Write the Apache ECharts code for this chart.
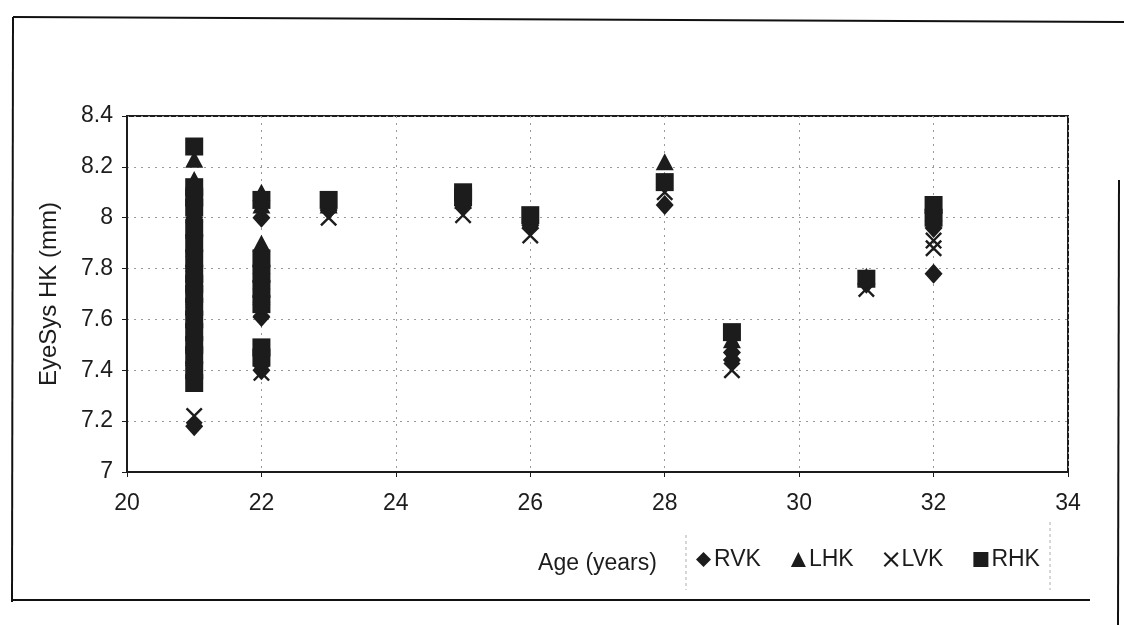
<!DOCTYPE html>
<html>
<head>
<meta charset="utf-8">
<script src="https://cdn.jsdelivr.net/npm/echarts@6/dist/echarts.min.js"></script>
<style>
  html, body { margin: 0; padding: 0; background: #fff; }
  #chart { width: 1124px; height: 625px; }
</style>
</head>
<body>
<div id="chart"></div>
<script>
// Corneal curvature (EyeSys HK, mm) against age, four meridians
const seriesNames = ['RVK', 'LHK', 'LVK', 'RHK'];

const rvk = [
  [21, 7.18], [21, 7.42], [21, 7.48], [21, 7.53], [21, 7.58], [21, 7.62], [21, 7.66],
  [21, 7.70], [21, 7.75], [21, 7.80], [21, 7.86], [21, 7.92], [21, 7.98], [21, 8.00],
  [22, 7.40], [22, 7.61], [22, 7.66], [22, 7.72], [22, 7.78], [22, 8.00],
  [23, 8.03], [25, 8.05], [26, 7.97], [28, 8.05], [29, 7.47], [29, 7.44],
  [31, 7.74], [32, 7.78], [32, 7.96]
];
const lhk = [
  [21, 7.40], [21, 7.45], [21, 7.52], [21, 7.60], [21, 7.68], [21, 7.75], [21, 7.82],
  [21, 7.88], [21, 7.95], [21, 8.02], [21, 8.08], [21, 8.15], [21, 8.23],
  [22, 7.70], [22, 7.78], [22, 7.90], [22, 8.05], [22, 8.10],
  [23, 8.05], [25, 8.07], [26, 7.99], [28, 8.22], [29, 7.52],
  [31, 7.77], [32, 8.02]
];
const lvk = [
  [21, 7.22], [21, 7.38], [21, 7.45], [21, 7.52], [21, 7.58], [21, 7.64], [21, 7.70],
  [21, 7.76], [21, 7.82], [21, 7.90], [21, 7.96], [21, 8.02],
  [22, 7.39], [22, 7.64], [22, 7.74], [22, 7.82],
  [23, 8.00], [25, 8.01], [26, 7.93], [28, 8.10], [29, 7.40],
  [31, 7.72], [32, 7.88], [32, 7.91]
];
const rhk = [
  [21, 7.35], [21, 7.40], [21, 7.46], [21, 7.50], [21, 7.55], [21, 7.60], [21, 7.65],
  [21, 7.70], [21, 7.74], [21, 7.78], [21, 7.84], [21, 7.90], [21, 7.96], [21, 8.04],
  [21, 8.08], [21, 8.12], [21, 8.28],
  [22, 7.45], [22, 7.49], [22, 7.66], [22, 7.72], [22, 7.78], [22, 7.84], [22, 8.07],
  [23, 8.07], [25, 8.10], [25, 8.08], [26, 8.01], [28, 8.14], [29, 7.55],
  [31, 7.76], [32, 8.00], [32, 8.05]
];

const xTicks = [20, 22, 24, 26, 28, 30, 32, 34];
const yTicks = [7, 7.2, 7.4, 7.6, 7.8, 8, 8.2, 8.4];

const ink = '#1c1c1c';
const font = 'Liberation Sans, Arial, sans-serif';
const crossPath = 'path://M1,0 L5,4 L9,0 L10,1 L6,5 L10,9 L9,10 L5,6 L1,10 L0,9 L4,5 L0,1 Z';

const symbols = {
  RVK: { symbol: 'diamond', size: [18, 20] },
  LHK: { symbol: 'triangle', size: [18, 17] },
  LVK: { symbol: crossPath, size: 17 },
  RHK: { symbol: 'rect', size: [18, 18] }
};
const dataByName = { RVK: rvk, LHK: lhk, LVK: lvk, RHK: rhk };

const chart = echarts.init(document.getElementById('chart'), null, { renderer: 'canvas' });

const grid = { left: 127, right: 56, top: 116, bottom: 153 };

chart.setOption({
  backgroundColor: '#fff',
  animation: false,
  textStyle: { fontFamily: font, color: ink },
  grid: Object.assign({ show: true, borderColor: ink, borderWidth: 2, backgroundColor: 'transparent' }, grid),
  xAxis: {
    type: 'value',
    min: xTicks[0],
    max: xTicks[xTicks.length - 1],
    interval: 2,
    name: 'Age (years)',
    nameLocation: 'middle',
    nameGap: 80,
    nameTextStyle: { fontSize: 23, color: ink, fontFamily: font },
    axisLine: { show: true, lineStyle: { color: ink, width: 2 } },
    axisTick: { show: true, length: 5, lineStyle: { color: ink } },
    axisLabel: { fontSize: 23, color: ink, margin: 20, fontFamily: font },
    splitLine: { show: true, lineStyle: { color: '#9a9a9a', type: [2, 5], width: 1 } }
  },
  yAxis: {
    type: 'value',
    min: yTicks[0],
    max: yTicks[yTicks.length - 1],
    interval: 0.2,
    name: 'EyeSys HK (mm)',
    nameLocation: 'middle',
    nameGap: 66,
    nameRotate: 90,
    nameTextStyle: { fontSize: 24, color: ink, fontFamily: font },
    axisLine: { show: true, lineStyle: { color: ink, width: 2 } },
    axisTick: { show: true, length: 5, lineStyle: { color: ink } },
    axisLabel: {
      fontSize: 23, color: ink, margin: 14, fontFamily: font,
      formatter: v => String(Math.round(v * 10) / 10)
    },
    splitLine: { show: true, lineStyle: { color: '#9a9a9a', type: [2, 5], width: 1 } }
  },
  legend: {
    left: 690,
    top: 544,
    itemWidth: 15,
    itemHeight: 15,
    itemGap: 30,
    padding: [4, 6],
    textStyle: { fontSize: 23, color: ink, fontFamily: font, padding: [0, 0, 0, -2] },
    data: seriesNames.map(n => ({ name: n, icon: symbols[n].symbol }))
  },
  series: seriesNames.map(n => ({
    name: n,
    type: 'scatter',
    symbol: symbols[n].symbol,
    symbolSize: symbols[n].size,
    itemStyle: { color: ink, opacity: 1 },
    data: dataByName[n],
    z: 3
  })),
  graphic: [
    // outer frame of the figure
    { type: 'line', shape: { x1: 13, y1: 17, x2: 1124, y2: 22 }, style: { stroke: '#111', lineWidth: 2 } },
    { type: 'line', shape: { x1: 13, y1: 17, x2: 12, y2: 602 }, style: { stroke: '#111', lineWidth: 2 } },
    { type: 'line', shape: { x1: 12, y1: 600, x2: 1090, y2: 600 }, style: { stroke: '#111', lineWidth: 2 } },
    { type: 'line', shape: { x1: 1119, y1: 180, x2: 1118, y2: 625 }, style: { stroke: '#111', lineWidth: 2 } },
    // legend box sides
    { type: 'line', shape: { x1: 686, y1: 535, x2: 686, y2: 590 }, style: { stroke: '#b0b0b0', lineWidth: 1, lineDash: [3, 3] } },
    { type: 'line', shape: { x1: 1050, y1: 522, x2: 1050, y2: 590 }, style: { stroke: '#b0b0b0', lineWidth: 1, lineDash: [3, 3] } }
  ]
});
</script>
</body>
</html>
